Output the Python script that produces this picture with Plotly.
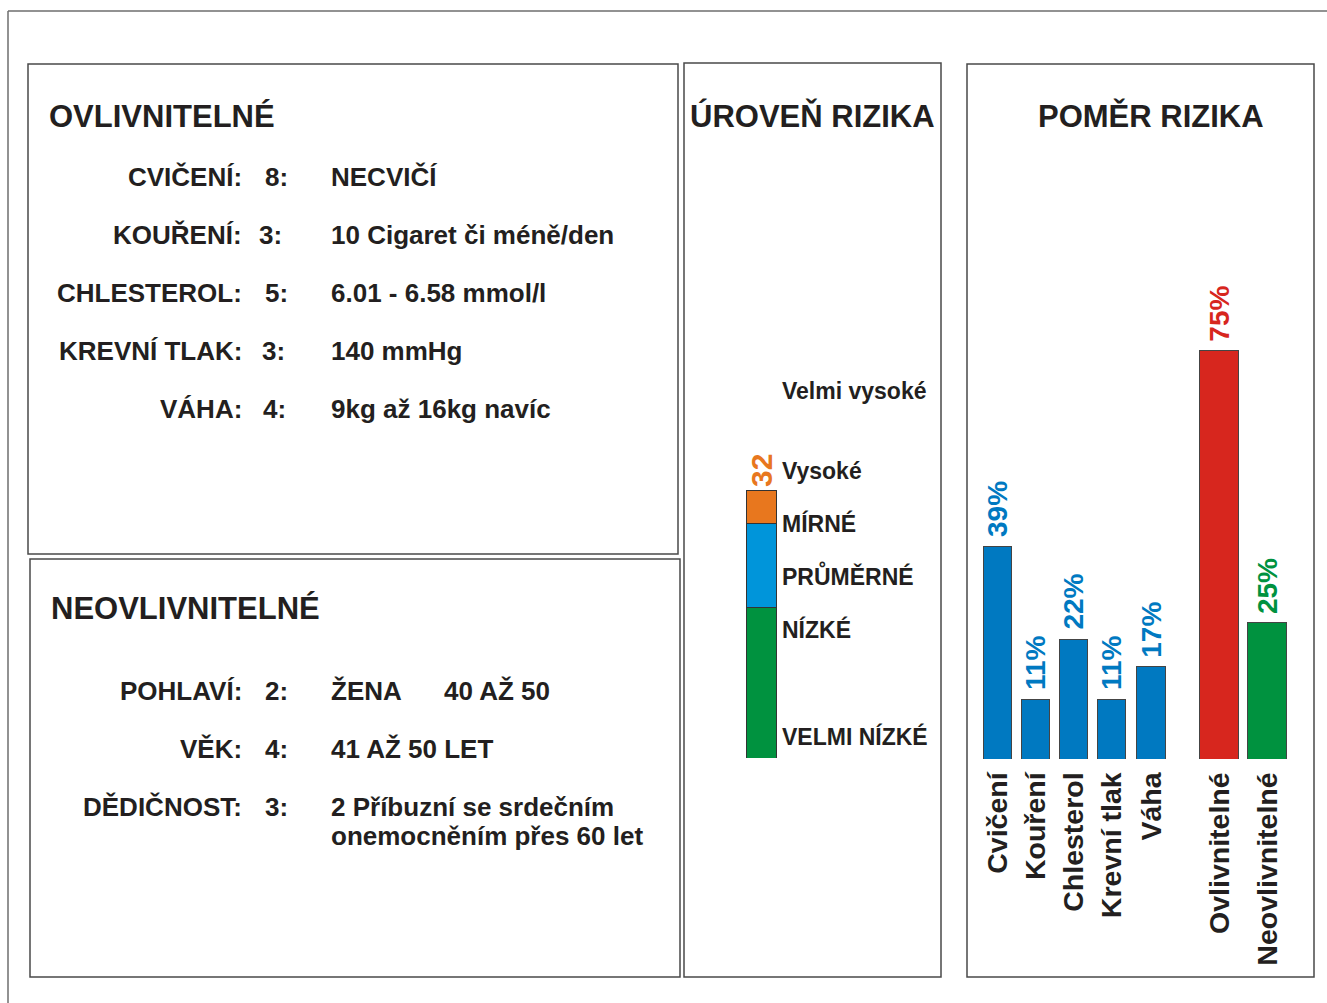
import plotly.graph_objects as go

W, H = 1327, 1003

# ---------------- data ----------------
ovl_title = "OVLIVNITELNÉ"
ovl_labels = ["CVIČENÍ:", "KOUŘENÍ:", "CHLESTEROL:", "KREVNÍ TLAK:", "VÁHA:"]
ovl_points = [8, 3, 5, 3, 4]
ovl_values = ["NECVIČÍ", "10 Cigaret či méně/den", "6.01 - 6.58 mmol/l", "140 mmHg", "9kg až 16kg navíc"]

neo_title = "NEOVLIVNITELNÉ"
neo_labels = ["POHLAVÍ:", "VĚK:", "DĚDIČNOST:"]
neo_points = [2, 4, 3]
neo_values = ["ŽENA", "41 AŽ 50 LET", "2 Příbuzní se srdečním<br>onemocněním přes 60 let"]
neo_extra = "40 AŽ 50"

level_title = "ÚROVEŇ RIZIKA"
level_names = ["VELMI NÍZKÉ", "NÍZKÉ", "PRŮMĚRNÉ", "MÍRNÉ", "Vysoké", "Velmi vysoké"]
level_pos = [2.5, 15.3, 21.6, 27.9, 34.3, 43.8]
score_segments = [18, 10, 4]
score_colors = ["#00923F", "#0095DA", "#E8771E"]

ratio_title = "POMĚR RIZIKA"
ratio_cats = ["Cvičení", "Kouření", "Chlesterol", "Krevní tlak", "Váha", "Ovlivnitelné", "Neovlivnitelné"]
ratio_vals = [39, 11, 22, 11, 17, 75, 25]
ratio_colors = ["#0079C1"] * 5 + ["#D7261E", "#00923F"]

# ---------------- layout helpers ----------------
FONT = "Liberation Sans, Arial, sans-serif"
INK = "#231F20"


def px(x):
    return x / W


def py(y):
    return 1 - y / H


fig = go.Figure()

# ---- ratio bars (POMĚR RIZIKA) ----
ratio_x = [0, 1, 2, 3, 4.05, 5.84, 7.10]
ratio_w = [0.76] * 5 + [1.03, 1.03]
fig.add_trace(go.Bar(
    x=ratio_x, y=ratio_vals, width=ratio_w,
    marker=dict(color=ratio_colors, line=dict(color="#444444", width=1)),
    hoverinfo="skip", xaxis="x", yaxis="y",
))

# ---- score stacked bar (ÚROVEŇ RIZIKA) ----
for v, c in zip(score_segments, score_colors):
    fig.add_trace(go.Bar(
        x=[0], y=[v], width=[0.744],
        marker=dict(color=c, line=dict(color="#333333", width=1)),
        hoverinfo="skip", xaxis="x2", yaxis="y2",
    ))

total = sum(score_segments)

# axis geometry
bx0, bx1 = 975, 1310
unit = 38.0
c0 = 997.5
base1 = 759
scale1 = 5.45
top1 = 140

base2 = 758
scale2 = 8.375
top2 = 140

fig.update_layout(
    width=W, height=H,
    margin=dict(l=0, r=0, t=0, b=0),
    paper_bgcolor="white", plot_bgcolor="rgba(0,0,0,0)",
    showlegend=False, barmode="stack",
    font=dict(family=FONT, color=INK),
    xaxis=dict(
        domain=[px(bx0), px(bx1)],
        range=[(bx0 - c0) / unit, (bx1 - c0) / unit],
        tickvals=ratio_x, ticktext=ratio_cats, tickangle=-90,
        tickfont=dict(family=FONT, size=28.5, color=INK, weight="bold"),
        ticks="outside", ticklen=1, tickcolor="rgba(0,0,0,0)",
        showgrid=False, zeroline=False, showline=False, fixedrange=True,
        anchor="y",
    ),
    yaxis=dict(
        domain=[py(base1), py(top1)],
        range=[0, (base1 - top1) / scale1],
        visible=False, fixedrange=True, anchor="x",
    ),
    xaxis2=dict(
        domain=[px(742), px(781)],
        range=[-0.5, 0.5],
        visible=False, fixedrange=True, anchor="y2",
    ),
    yaxis2=dict(
        domain=[py(base2), py(top2)],
        range=[0, (base2 - top2) / scale2],
        side="right", anchor="x2",
        tickvals=level_pos, ticktext=level_names,
        tickfont=dict(family=FONT, size=23, color=INK, weight="bold"),
        ticks="", showgrid=False, zeroline=False, showline=False, fixedrange=True,
    ),
)

# ---------------- frames ----------------
shapes = []
frame_col = "#6E6E6E"
shapes.append(dict(type="line", xref="paper", yref="paper",
                   x0=px(8), y0=py(11), x1=px(1327), y1=py(11),
                   line=dict(color=frame_col, width=1.5)))
shapes.append(dict(type="line", xref="paper", yref="paper",
                   x0=px(8), y0=py(11), x1=px(8), y1=py(1003),
                   line=dict(color=frame_col, width=1.5)))
boxes = [(28, 64, 678, 554), (30, 559, 680, 977), (684, 63, 941, 977), (967, 64, 1314, 977)]
for (x0, y0, x1, y1) in boxes:
    shapes.append(dict(type="rect", xref="paper", yref="paper",
                       x0=px(x0), y0=py(y0), x1=px(x1), y1=py(y1),
                       line=dict(color="#4A4A4A", width=1.5), fillcolor="rgba(0,0,0,0)",
                       layer="below"))
fig.update_layout(shapes=shapes)

# ---------------- text ----------------
ann = []


def text(x, y, s, size, anchor="left", color=INK, angle=0, yanchor="middle"):
    ann.append(dict(xref="paper", yref="paper", x=px(x), y=py(y), text=s,
                    showarrow=False, xanchor=anchor, yanchor=yanchor, textangle=angle,
                    font=dict(family=FONT, size=size, color=color, weight="bold")))


text(47, 116, ovl_title, 31)
text(49, 608, neo_title, 31)
text(812, 116, level_title, 31, anchor="center")
text(1151, 116, ratio_title, 31, anchor="center")

row_y_ovl = [177, 235, 293, 351, 409]
row_num_x_ovl = [263, 257, 263, 260, 261]
for y, lab, p, val, nx in zip(row_y_ovl, ovl_labels, ovl_points, ovl_values, row_num_x_ovl):
    text(244, y, lab, 26, anchor="right")
    text(nx, y, f"{p}:", 26)
    text(329, y, val, 26)

row_y_neo = [691, 749, 807]
for y, lab, p, val in zip(row_y_neo, neo_labels, neo_points, neo_values):
    text(244, y, lab, 26, anchor="right")
    text(263, y, f"{p}:", 26)
    for i, line in enumerate(val.split("<br>")):
        text(329, y + 29 * i, line, 26)
text(442, row_y_neo[0], neo_extra, 26)

fig.update_layout(annotations=ann)

# percentage labels above ratio bars
for xv, v, c in zip(ratio_x, ratio_vals, ratio_colors):
    fig.add_annotation(xref="x", yref="y", x=xv, y=v, text=f"{v}%",
                       showarrow=False, textangle=-90, xanchor="center", yanchor="bottom",
                       yshift=7,
                       font=dict(family=FONT, size=28, color=c, weight="bold"))

# total score label above stacked bar
fig.add_annotation(xref="x2", yref="y2", x=0, y=total, text=str(total),
                   showarrow=False, textangle=-90, xanchor="center", yanchor="bottom",
                   yshift=1,
                   font=dict(family=FONT, size=30, color="#E8771E", weight="bold"))

fig.write_html("out.html", config={"displayModeBar": False},
               post_script="document.body.style.margin='0';document.body.style.overflow='hidden';")
